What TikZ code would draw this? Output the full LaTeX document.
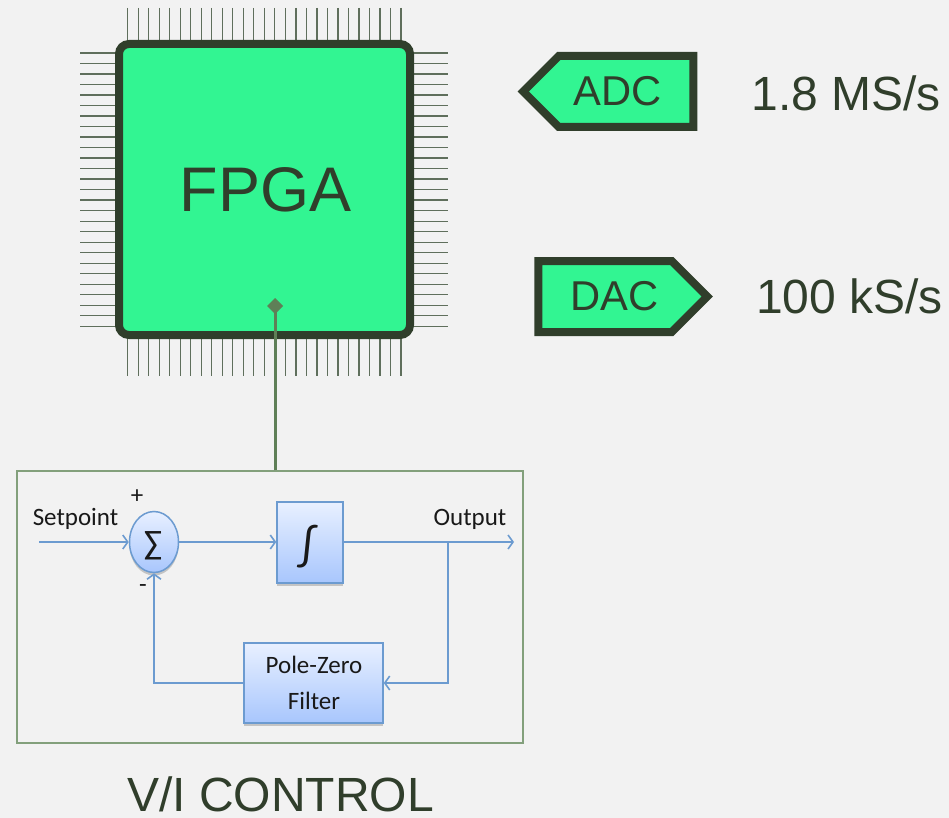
\documentclass[tikz,border=0pt]{standalone}
\usepackage{fontspec}
\setmainfont{Liberation Sans}
\newfontfamily\blockfont{Carlito}
\usetikzlibrary{arrows.meta, positioning, shadows, shapes.geometric, shapes.symbols}

\definecolor{pagegray}{HTML}{F2F2F2}
\definecolor{chipgreen}{HTML}{32F592}
\definecolor{darkgreen}{HTML}{303E2B}
\definecolor{pingreen}{HTML}{5F6F5C}
\definecolor{linkgreen}{HTML}{5F7F57}
\definecolor{framegreen}{HTML}{83A07C}
\definecolor{blockline}{HTML}{6C9BD0}
\definecolor{blocktop}{HTML}{E8F0FF}
\definecolor{blockbot}{HTML}{A8C6FD}

\tikzset{
  chip/.style={draw=darkgreen, fill=chipgreen, line width=8pt, text=darkgreen},
  bigtext/.style={text=darkgreen, inner sep=0pt, font=\fontsize{48}{50}\selectfont},
  block/.style={draw=blockline, line width=1.5pt, top color=blocktop, bottom color=blockbot,
                drop shadow={shadow xshift=0pt, shadow yshift=-3pt, opacity=0.4}, inner sep=0pt},
  small/.style={inner sep=0pt, text=black!90, font=\blockfont\fontsize{25}{36}\selectfont},
  wire/.style={draw=blockline, line width=1.6pt},
  arrow/.style={wire, -{Straight Barb[length=5pt, width=14pt, line width=1.6pt]}}
}

\begin{document}
\begin{tikzpicture}[x=1pt, y=-1pt]

\path [fill=pagegray, use as bounding box] (0,0) rectangle (949,818);

% pins go in first, the chip covers their inner ends
\foreach \i in {0,...,26} {
  \draw [pingreen, line width=1.3pt] ({127.7+10.51*\i},8) -- ({127.7+10.51*\i},376);
  \draw [pingreen, line width=1.3pt] (80,{53+10.51*\i}) -- (448,{53+10.51*\i});
}

\node [chip, rectangle, minimum width=291pt, minimum height=291pt, rounded corners=10pt,
       font=\fontsize{63}{65}\selectfont                                   ] (fpga) at (264.5,189.5) {\raisebox{-2pt}{\kern2pt FPGA}};
\node [chip, signal, signal to=west, signal from=nowhere, minimum width=170pt, minimum height=71pt,
       inner sep=0pt, font=\fontsize{41.7}{44}\selectfont                  ] (adc)  at (626,91.5)    {\raisebox{-2pt}{\kern-16pt ADC}};
\node [chip, signal, signal to=east, signal from=nowhere, minimum width=169pt, minimum height=71pt,
       inner sep=0pt, font=\fontsize{41.7}{44}\selectfont                  ] (dac)  at (605,296.5)   {\kern19pt DAC};
\node [bigtext, right=54pt of adc, yshift=-2pt                             ] (adcrate) {1.8 MS/s};
\node [bigtext, right=43pt of dac                                          ] (dacrate) {100 kS/s};

\node [draw=framegreen, line width=1.3pt, minimum width=506pt, minimum height=272pt] (control) at (270,607) {};
\node [bigtext, below=33pt of control, xshift=10.5pt                       ] (controltext) {V/I CONTROL};

\node [block, ellipse, minimum width=49pt, minimum height=61pt             ] (sum)    at (154,542)   {};
\node [block, rectangle, minimum width=66pt, minimum height=81pt           ] (integ)  at (310,542.5) {};
\node [block, rectangle, minimum width=139pt, minimum height=80pt          ] (filter) at (313.5,683) {};

\node [small                      ] (sigma) at (153,546) {\fontsize{34}{36}\selectfont ∑};
\node [small                      ] (intsign) at (308,547) {\fontsize{46}{48}\selectfont ∫};
\node [small                      ] (filtera) at (314,665) {Pole-Zero};
\node [small                      ] (filterb) at (314,701) {Filter};
\node [small                      ] (setpoint) at (75.5,519) {Setpoint};
\node [small                      ] (output) at (470,519) {Output};
\node [small                      ] (plus) at (137,497) {+};
\node [small                      ] (minus) at (143,589) {-};

\coordinate (in)  at (39,542);
\coordinate (tap) at (448,542);
\coordinate (out) at (514,542);
\coordinate (top) at (275,298);

\path [arrow] (in) -- (sum);
\path [arrow] (sum) -- (sum -| integ.west);
\path [arrow] (sum -| integ.east) -- (out);
\path [arrow] (tap) |- (filter);
\path [arrow] (filter) -| (sum);
\draw [linkgreen, line width=3pt, -{Diamond[length=16pt, width=16pt]}] (control.north -| top) -- (top);

\end{tikzpicture}
\end{document}
